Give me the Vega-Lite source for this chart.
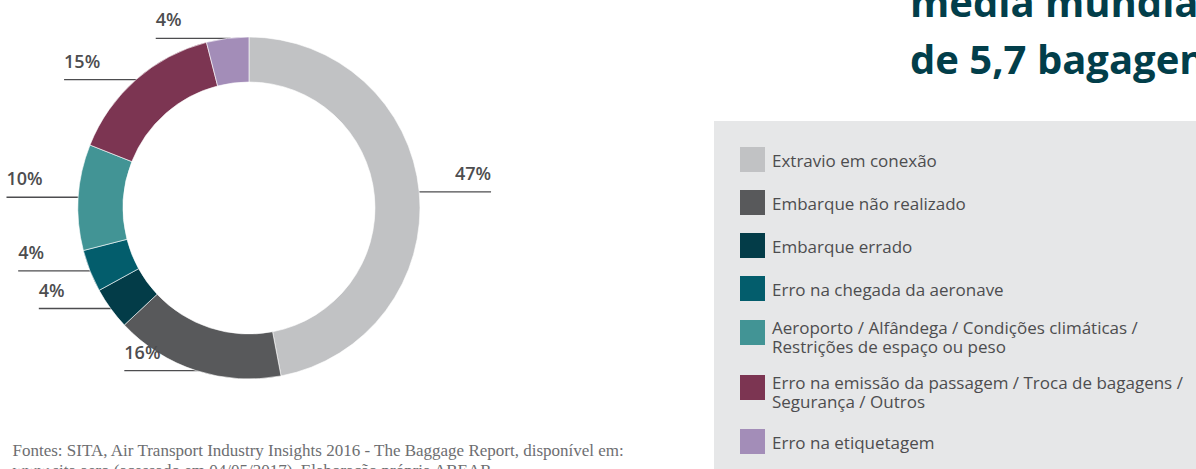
{
  "$schema": "https://vega.github.io/schema/vega-lite/v6.json",
  "width": 1196,
  "height": 469,
  "autosize": {"type": "none"},
  "padding": 0,
  "background": "white",
  "config": {"view": {"stroke": null}},
  "title": {
    "text": ["média mundial", "de 5,7 bagagens"],
    "anchor": "start",
    "frame": "group",
    "dx": 910,
    "offset": -114,
    "baseline": "alphabetic",
    "fontSize": 40,
    "lineHeight": 57,
    "font": "Open Sans",
    "fontWeight": 700,
    "color": "#023e4a"
  },
  "data": {
    "values": [
      {"causa": "Extravio em conexão", "share": 0.47},
      {"causa": "Embarque não realizado", "share": 0.16},
      {"causa": "Embarque errado", "share": 0.04},
      {"causa": "Erro na chegada da aeronave", "share": 0.04},
      {"causa": "Aeroporto / Alfândega / Condições climáticas / Restrições de espaço ou peso", "share": 0.10},
      {"causa": "Erro na emissão da passagem / Troca de bagagens / Segurança / Outros", "share": 0.15},
      {"causa": "Erro na etiquetagem", "share": 0.04}
    ]
  },
  "transform": [
    {"window": [{"op": "sum", "field": "share", "as": "cum"}, {"op": "row_number", "as": "idx"}], "frame": [null, 0]},
    {"calculate": "(datum.cum - datum.share / 2) * 2 * PI", "as": "ang"},
    {"calculate": "sin(datum.ang)", "as": "px"},
    {"calculate": "cos(datum.ang)", "as": "py"},
    {"calculate": "datum.px * 0.85", "as": "lx1"},
    {"calculate": "datum.px + (datum.px >= 0 ? 0.42 : -0.42)", "as": "lx2"}
  ],
  "layer": [
    {
      "mark": {"type": "rule", "color": "#4d4d4f", "strokeWidth": 1.3},
      "encoding": {
        "x": {
          "field": "lx1", "type": "quantitative",
          "scale": {"domain": [-1.456, 5.538], "nice": false, "zero": false},
          "axis": {
            "title": ["Fontes: SITA, Air Transport Industry Insights 2016 - The Baggage Report, disponível em:", "www.sita.aero (acessado em 04/05/2017). Elaboração própria ABEAR."],
            "domain": false, "ticks": false, "labels": false, "grid": false,
            "titleFont": "Liberation Serif", "titleFontSize": 17, "titleFontWeight": "normal",
            "titleColor": "#6d6e71", "titleX": 12, "titleY": -14, "titleAlign": "left",
            "titleAnchor": "start", "titleBaseline": "alphabetic", "titleLineHeight": 20
          }
        },
        "x2": {"field": "lx2"},
        "y": {"field": "py", "type": "quantitative", "scale": {"domain": [-1.526, 1.216], "nice": false, "zero": false}, "axis": null}
      }
    },
    {
      "mark": {"type": "arc", "outerRadius": 171, "innerRadius": 126, "stroke": "white", "strokeWidth": 0.6},
      "encoding": {
        "x": {"datum": 0, "type": "quantitative"},
        "y": {"datum": 0, "type": "quantitative"},
        "theta": {"field": "share", "type": "quantitative", "stack": true},
        "order": {"field": "idx", "type": "quantitative"},
        "color": {
          "field": "causa", "type": "nominal",
          "scale": {
            "domain": ["Extravio em conexão", "Embarque não realizado", "Embarque errado", "Erro na chegada da aeronave", "Aeroporto / Alfândega / Condições climáticas / Restrições de espaço ou peso", "Erro na emissão da passagem / Troca de bagagens / Segurança / Outros", "Erro na etiquetagem"],
            "range": ["#c1c2c4", "#58595b", "#033c48", "#035d6c", "#429495", "#7c3552", "#a38db8"]
          },
          "legend": {
            "orient": "none", "legendX": 714, "legendY": 121, "title": null,
            "fillColor": "#e6e7e8", "padding": 26,
            "symbolType": "square", "symbolSize": 625, "symbolStrokeWidth": 0, "symbolOpacity": 1,
            "labelFont": "Open Sans", "labelFontSize": 17, "labelColor": "#4d4d4f",
            "labelOffset": 7, "rowPadding": 18, "labelLimit": 700,
            "labelExpr": "split(replace(replace(datum.label, 'climáticas / ', 'climáticas /|'), 'bagagens / ', 'bagagens /|'), '|')",
            "encoding": {
              "labels": {
                "baseline": {"value": {"expr": "length(datum.label) > 40 ? 'alphabetic' : 'middle'"}},
                "dy": {"value": {"expr": "length(datum.label) > 40 ? 1 : 2"}},
                "lineHeight": {"value": 19}
              }
            }
          }
        }
      }
    },
    {
      "transform": [{"filter": "datum.px >= 0"}],
      "mark": {"type": "text", "align": "right", "baseline": "alphabetic", "dy": -12, "font": "Open Sans", "fontSize": 18, "fontWeight": 600, "color": "#4d4d4f"},
      "encoding": {
        "x": {"field": "lx2", "type": "quantitative"},
        "y": {"field": "py", "type": "quantitative"},
        "text": {"field": "share", "type": "quantitative", "format": ".0%"}
      }
    },
    {
      "transform": [{"filter": "datum.px < 0"}],
      "mark": {"type": "text", "align": "left", "baseline": "alphabetic", "dy": -12, "font": "Open Sans", "fontSize": 18, "fontWeight": 600, "color": "#4d4d4f"},
      "encoding": {
        "x": {"field": "lx2", "type": "quantitative"},
        "y": {"field": "py", "type": "quantitative"},
        "text": {"field": "share", "type": "quantitative", "format": ".0%"}
      }
    }
  ]
}
